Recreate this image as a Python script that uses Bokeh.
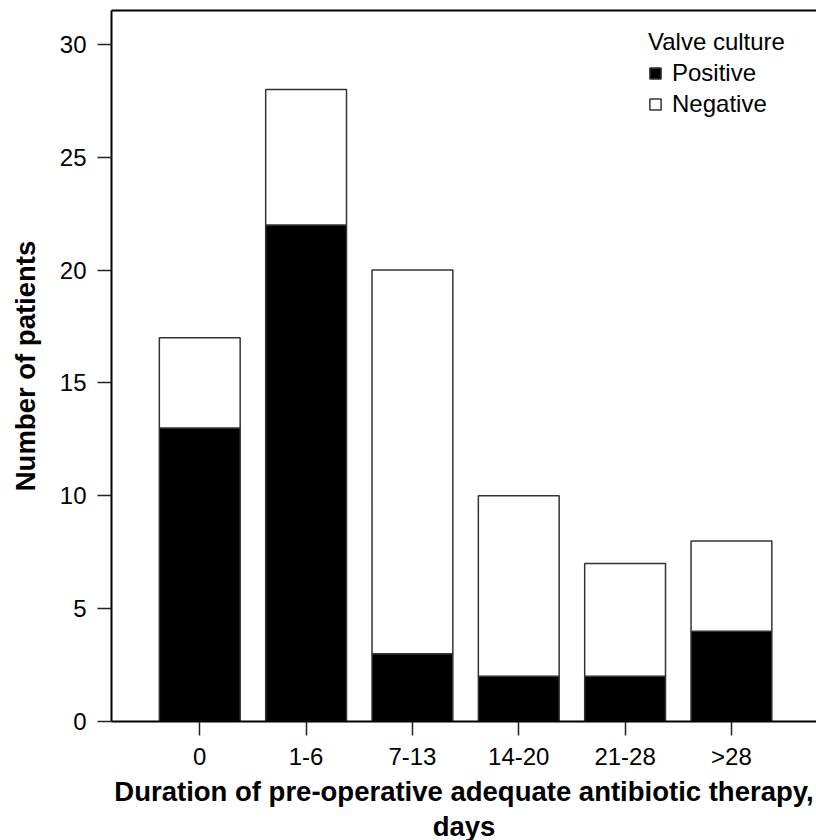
from bokeh.plotting import figure
from bokeh.models import Range1d, FixedTicker, LinearAxis, Legend, LegendItem
from bokeh.embed import file_html
from bokeh.resources import INLINE

categories = ["0", "1-6", "7-13", "14-20", "21-28", ">28"]
positive = [13, 22, 3, 2, 2, 4]
negative = [4, 6, 17, 8, 5, 4]
y_ticks = [0, 5, 10, 15, 20, 25, 30]

xs = list(range(len(categories)))
FONT = "Liberation Sans"

p = figure(frame_width=705, frame_height=711, output_backend="svg", toolbar_location=None,
           x_range=Range1d(-0.83, 5.8), y_range=Range1d(0, 31.5),
           min_border_left=111, min_border_right=0, min_border_top=10, min_border_bottom=10,
           background_fill_color="white", border_fill_color="white")
p.outline_line_color = None
p.xgrid.visible = False
p.ygrid.visible = False

data = dict(x=xs, Positive=positive, Negative=negative)
rs = p.vbar_stack(["Positive", "Negative"], x="x", width=0.76, source=data,
                  fill_color=["black", "white"], line_color="#333333", line_width=1.5)

legend = Legend(items=[LegendItem(label="Positive", renderers=[rs[0]]),
                       LegendItem(label="Negative", renderers=[rs[1]])],
                title="Valve culture", location=(537, 603))
legend.title_text_font = FONT
legend.title_text_font_size = "24px"
legend.title_text_font_style = "normal"
legend.title_text_color = "black"
legend.title_standoff = 3
legend.label_text_font = FONT
legend.label_text_font_size = "24px"
legend.label_text_color = "black"
legend.glyph_width = 14
legend.glyph_height = 14
legend.label_height = 27
legend.label_standoff = 10
legend.spacing = 3
legend.padding = 0
legend.margin = 0
legend.border_line_color = None
legend.background_fill_alpha = 0
p.add_layout(legend)

# axes
xa = p.xaxis[0]
xa.ticker = FixedTicker(ticks=xs)
xa.major_label_overrides = {i: c for i, c in enumerate(categories)}
xa.axis_label = "Duration of pre-operative adequate antibiotic therapy,"
ya = p.yaxis[0]
ya.ticker = FixedTicker(ticks=y_ticks)
ya.axis_label = "Number of patients"

for ax in (xa, ya):
    ax.minor_tick_line_color = None
    ax.major_tick_in = 0
    ax.major_tick_out = 14
    ax.major_tick_line_width = 1.5
    ax.major_tick_line_color = "#222222"
    ax.axis_line_width = 2
    ax.axis_line_color = "black"
    ax.major_label_text_font = FONT
    ax.major_label_text_font_size = "24px"
    ax.major_label_text_color = "black"
    ax.axis_label_text_font = FONT
    ax.axis_label_text_font_size = "27.5px"
    ax.axis_label_text_font_style = "bold"
    ax.axis_label_text_color = "black"
xa.major_label_standoff = 7
xa.axis_label_standoff = 3
ya.major_label_standoff = 11
ya.axis_label_standoff = 16

# second line of the x-axis title
days_axis = LinearAxis(ticker=FixedTicker(ticks=[]), major_label_text_font_size="0px",
                       axis_line_color=None, major_tick_out=0, major_tick_in=0,
                       minor_tick_out=0, minor_tick_in=0,
                       axis_label="days", axis_label_standoff=1,
                       axis_label_text_font=FONT, axis_label_text_font_size="27.5px",
                       axis_label_text_font_style="bold", axis_label_text_color="black")
p.add_layout(days_axis, "below")

top = LinearAxis(ticker=FixedTicker(ticks=[]), major_label_text_font_size="0px",
                 axis_line_width=2, axis_line_color="black",
                 major_tick_out=0, major_tick_in=0, minor_tick_out=0, minor_tick_in=0)
p.add_layout(top, "above")

open("out.html", "w").write(file_html(p, INLINE))
